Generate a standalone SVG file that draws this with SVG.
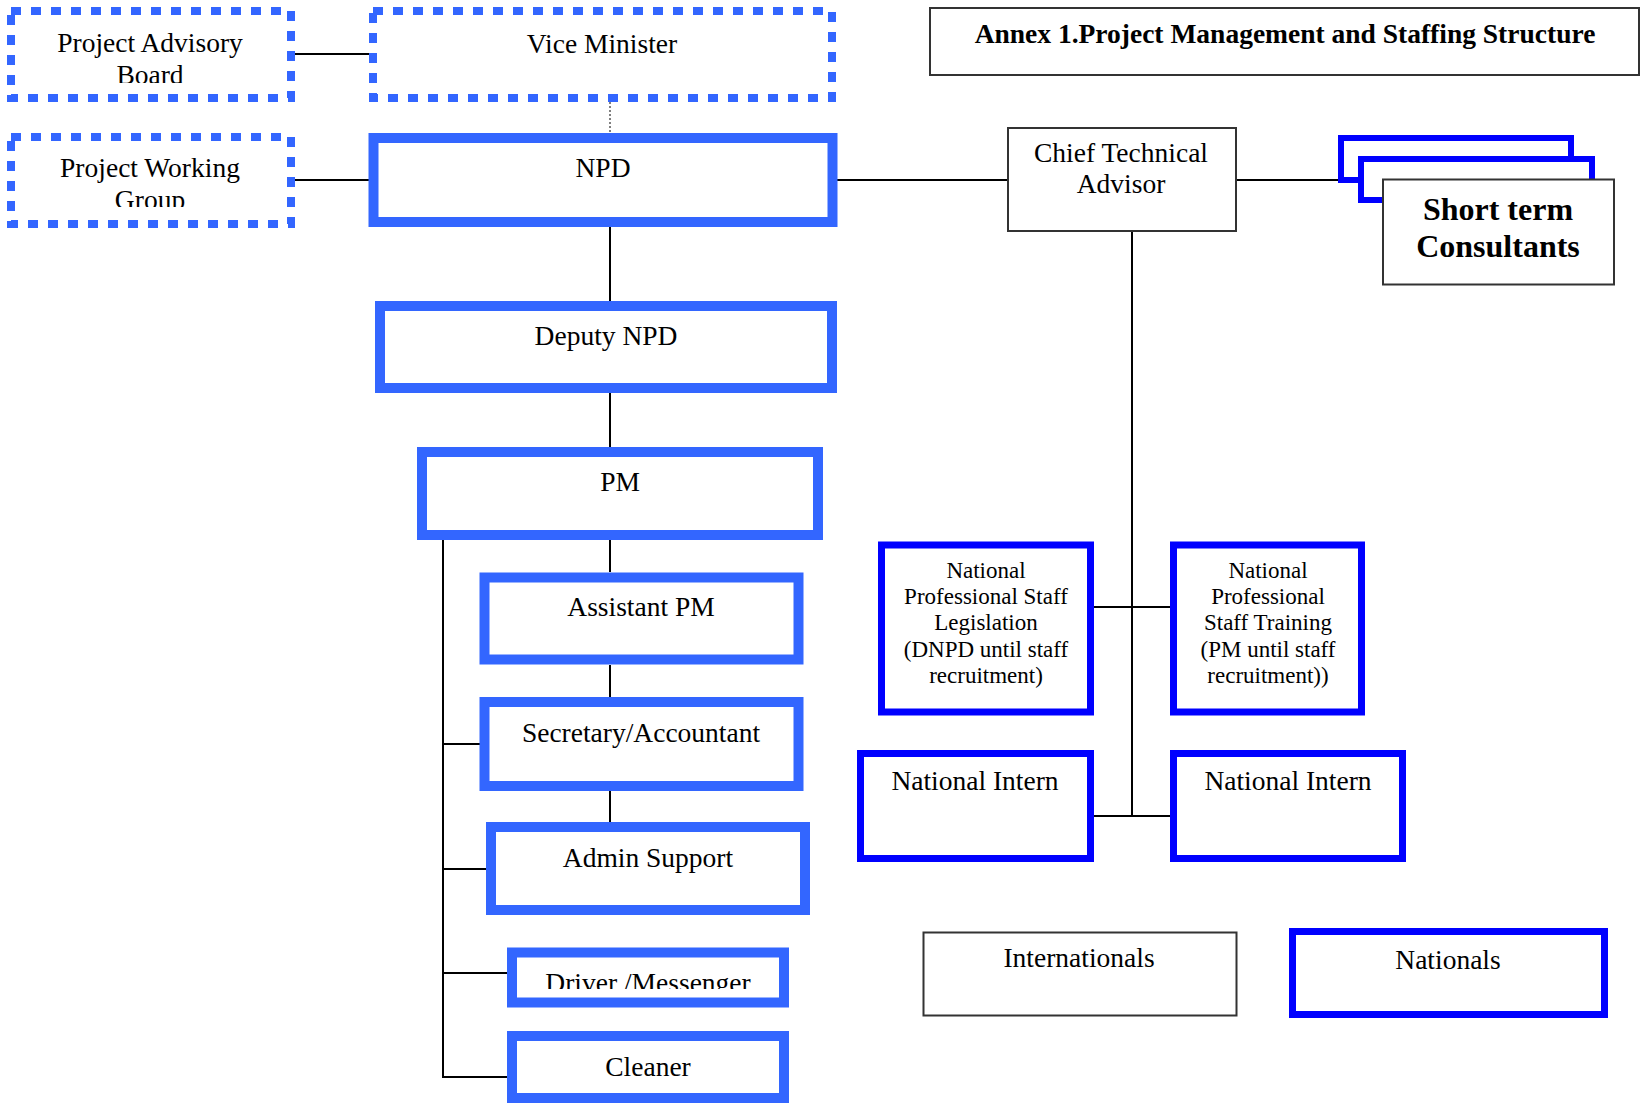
<svg xmlns="http://www.w3.org/2000/svg" width="1642" height="1111" viewBox="0 0 1642 1111">
<style>
text{font-family:"Liberation Serif","Times New Roman",serif;font-size:27.5px;fill:#000;text-anchor:middle}
.dash{fill:#fff;stroke:#3366FF;stroke-width:8;stroke-dasharray:10 10}
.lb{fill:#fff;stroke:#3366FF;stroke-width:10}
.db{fill:#fff;stroke:#0000FF;stroke-width:7}
.thin{fill:#fff;stroke:#333;stroke-width:2}
.frame{fill:#fff;stroke:#0000FF;stroke-width:6}
.c line{stroke:#000;stroke-width:2}
.sm{font-size:23px}
.b{font-weight:bold}
</style>
<defs>
<clipPath id="clipPAB"><rect x="10" y="10" width="281" height="73"/></clipPath>
<clipPath id="clipPWG"><rect x="10" y="136" width="281" height="71"/></clipPath>
<clipPath id="clipDrv"><rect x="512" y="952" width="272" height="37"/></clipPath>
</defs>
<rect width="1642" height="1111" fill="#fff"/>
<g class="c" id="connectors">
<line x1="294" y1="54" x2="372" y2="54"/>
<line x1="294" y1="180" x2="372" y2="180"/>
<line x1="610" y1="102" x2="610" y2="133" stroke-dasharray="2 2" style="stroke-width:1"/>
<line x1="610" y1="227" x2="610" y2="301"/>
<line x1="610" y1="393" x2="610" y2="447"/>
<line x1="610" y1="540" x2="610" y2="572"/>
<line x1="610" y1="665" x2="610" y2="697"/>
<line x1="610" y1="791" x2="610" y2="822"/>
<line x1="443" y1="535" x2="443" y2="1078"/>
<line x1="443" y1="744" x2="485" y2="744"/>
<line x1="443" y1="869" x2="486" y2="869"/>
<line x1="443" y1="973" x2="507" y2="973"/>
<line x1="443" y1="1077" x2="507" y2="1077"/>
<line x1="837" y1="180" x2="1007" y2="180"/>
<line x1="1237" y1="180" x2="1338" y2="180"/>
<line x1="1132" y1="232" x2="1132" y2="816"/>
<line x1="1093" y1="607" x2="1170" y2="607"/>
<line x1="1093" y1="816" x2="1170" y2="816"/>
</g>
<g id="title">
<rect x="930" y="8" width="709" height="67" class="thin"/>
<text x="1285" y="43" class="b" style="font-size:27.5px">Annex 1.Project Management and Staffing Structure</text>
</g>
<g id="pab">
<rect x="11" y="11" width="280" height="87" class="dash"/>
<g clip-path="url(#clipPAB)"><text x="150" y="52">Project Advisory</text><text x="150" y="84">Board</text></g>
</g>
<g id="vm">
<rect x="373" y="11" width="459" height="87" class="dash"/>
<text x="602" y="53">Vice Minister</text>
</g>
<g id="pwg">
<rect x="11" y="137" width="280" height="87" class="dash"/>
<g clip-path="url(#clipPWG)"><text x="150" y="177">Project Working</text><text x="150" y="209">Group</text></g>
</g>
<g id="npd">
<rect x="373.5" y="138" width="459" height="84" class="lb"/>
<text x="603" y="177">NPD</text>
</g>
<g id="deputy">
<rect x="380" y="306" width="452" height="82" class="lb"/>
<text x="606" y="345">Deputy NPD</text>
</g>
<g id="pm">
<rect x="422" y="452" width="396" height="83" class="lb"/>
<text x="620" y="491">PM</text>
</g>
<g id="apm">
<rect x="484.5" y="577.5" width="314" height="82" class="lb"/>
<text x="641" y="616">Assistant PM</text>
</g>
<g id="sec">
<rect x="484.5" y="702" width="314" height="84" class="lb"/>
<text x="641" y="742">Secretary/Accountant</text>
</g>
<g id="admin">
<rect x="491" y="827" width="314" height="83" class="lb"/>
<text x="648" y="867">Admin Support</text>
</g>
<g id="driver">
<rect x="512" y="952.5" width="272" height="50" class="lb"/>
<g clip-path="url(#clipDrv)"><text x="648" y="992">Driver /Messenger</text></g>
</g>
<g id="cleaner">
<rect x="512" y="1036" width="272" height="62" class="lb"/>
<text x="648" y="1076">Cleaner</text>
</g>
<g id="cta">
<rect x="1008" y="128" width="228" height="103" class="thin"/>
<text x="1121" y="162">Chief Technical</text>
<text x="1121" y="193">Advisor</text>
</g>
<g id="stc">
<rect x="1341" y="138" width="230" height="42" class="frame"/>
<rect x="1361" y="159" width="231" height="41" class="frame"/>
<rect x="1383" y="179.5" width="231" height="105" class="thin"/>
<text x="1498" y="220" class="b" style="font-size:32px">Short term</text>
<text x="1498" y="257" class="b" style="font-size:32px">Consultants</text>
</g>
<g id="nps-leg">
<rect x="881.5" y="545" width="209" height="167" class="db"/>
<text class="sm" x="986" y="578">National</text>
<text class="sm" x="986" y="604">Professional Staff</text>
<text class="sm" x="986" y="630">Legislation</text>
<text class="sm" x="986" y="657">(DNPD until staff</text>
<text class="sm" x="986" y="683">recruitment)</text>
</g>
<g id="nps-train">
<rect x="1173.5" y="545" width="188" height="167" class="db"/>
<text class="sm" x="1268" y="578">National</text>
<text class="sm" x="1268" y="604">Professional</text>
<text class="sm" x="1268" y="630">Staff Training</text>
<text class="sm" x="1268" y="657">(PM until staff</text>
<text class="sm" x="1268" y="683">recruitment))</text>
</g>
<g id="intern1">
<rect x="860.5" y="753.5" width="230" height="105" class="db"/>
<text x="975" y="790">National Intern</text>
</g>
<g id="intern2">
<rect x="1173.5" y="753.5" width="229" height="105" class="db"/>
<text x="1288" y="790">National Intern</text>
</g>
<g id="internationals">
<rect x="923.5" y="932.5" width="313" height="83" class="thin"/>
<text x="1079" y="967">Internationals</text>
</g>
<g id="nationals">
<rect x="1292.5" y="931.5" width="312" height="83" class="db"/>
<text x="1448" y="969">Nationals</text>
</g>
</svg>
